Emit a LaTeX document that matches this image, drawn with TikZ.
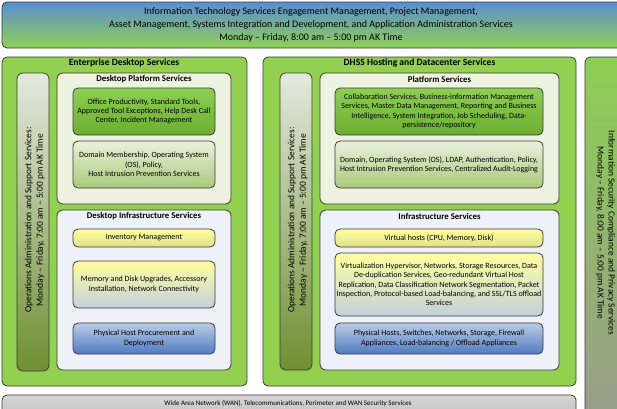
\documentclass[tikz,border=0pt]{standalone}
\usepackage{fontspec}
\setmainfont{Carlito}
\definecolor{edge}{HTML}{3A3A3A}
\definecolor{panelgreen}{HTML}{92D050}
\definecolor{bannerblue}{HTML}{5A8ED2}
\definecolor{bannergreen}{HTML}{90D055}
\definecolor{platfill}{HTML}{EEF3E1}
\definecolor{infrafill}{HTML}{EEF1F8}
\definecolor{gtop}{HTML}{8CCF52}
\definecolor{gbot}{HTML}{6CAE32}
\definecolor{ltop}{HTML}{EAF1DC}
\definecolor{lbot}{HTML}{A9C97A}
\definecolor{ytop}{HTML}{FFFF9E}
\definecolor{ybot}{HTML}{E0E08A}
\definecolor{mbot}{HTML}{C4D0DE}
\definecolor{btop}{HTML}{BACDE6}
\definecolor{bbot}{HTML}{4F7BBF}
\definecolor{vtop}{HTML}{E4E9DE}
\definecolor{vbot}{HTML}{6F8F32}
\definecolor{rbot}{HTML}{9A9C8C}
\definecolor{graytop}{HTML}{D6D6D6}
\definecolor{graybot}{HTML}{BABABA}
\begin{document}
\begin{tikzpicture}[x=1pt,y=-1pt,
  boxbase/.style={draw=edge,line width=0.8pt,rounded corners=5pt,inner sep=0pt,align=center},
  panel/.style={boxbase,fill=panelgreen},
  subpanel/.style={boxbase,rounded corners=6pt},
  item/.style={boxbase,rounded corners=5pt,font=\fontsize{8}{9.3}\selectfont},
  greenitem/.style={item,top color=gtop,bottom color=gbot},
  lightitem/.style={item,top color=ltop,bottom color=lbot},
  yellowitem/.style={item,top color=ytop,bottom color=ybot},
  mixitem/.style={item,top color=ytop,bottom color=mbot},
  blueitem/.style={item,top color=btop,bottom color=bbot},
  vbar/.style={boxbase,rounded corners=6pt,top color=vtop,bottom color=vbot},
  paneltitle/.style={font=\bfseries\fontsize{9.6}{11}\selectfont,inner sep=0pt},
  subtitle/.style={font=\bfseries\fontsize{8.8}{10}\selectfont,inner sep=0pt},
  vtext/.style={font=\fontsize{9.4}{11.5}\selectfont,align=center,inner sep=0pt}
]
\useasboundingbox (0,0) rectangle (617,408);
\clip (0,0) rectangle (617,408);
\fill[white] (0,0) rectangle (617,408);

% top banner
\node[boxbase,top color=bannerblue,bottom color=bannergreen,minimum width=640pt,minimum height=46pt] (banner) at (322,25) {};
\node[font=\fontsize{10}{13}\selectfont,align=center,inner sep=0pt] (bannertext) at (311,25)
  {Information Technology Services Engagement Management, Project Management,\\
   Asset Management, Systems Integration and Development, and Application Administration Services\\
   Monday -- Friday, 8:00 am -- 5:00 pm AK Time};

% left panel
\node[panel,minimum width=245pt,minimum height=329pt] (leftpanel) at (124.5,221.5) {};
\node[paneltitle] (lefttitle) at (124,63) {Enterprise Desktop Services};
\node[vbar,minimum width=32pt,minimum height=298pt] (leftbar) at (33,222) {};
\node[vtext,rotate=90] (leftbartext) at (34.5,220)
  {Operations Administration and Support Services:\\Monday -- Friday, 7:00 am -- 5:00 pm AK Time};

\node[subpanel,fill=platfill,minimum width=174pt,minimum height=131pt] (dplat) at (144,138.5) {};
\node[subtitle] (dplattitle) at (144,79) {Desktop Platform Services};
\node[greenitem,minimum width=142pt,minimum height=47pt] (office) at (144,111.5)
  {Office Productivity, Standard Tools,\\Approved Tool Exceptions, Help Desk Call\\Center, Incident Management};
\node[lightitem,minimum width=142pt,minimum height=47pt] (ddomain) at (144,164.5)
  {Domain Membership, Operating System\\(OS), Policy,\\Host Intrusion Prevention Services};

\node[subpanel,fill=infrafill,minimum width=174pt,minimum height=160pt] (dinfra) at (144,290) {};
\node[subtitle] (dinfratitle) at (144,216) {Desktop Infrastructure Services};
\node[yellowitem,minimum width=142pt,minimum height=18pt] (inventory) at (144,238) {Inventory Management};
\node[mixitem,minimum width=142pt,minimum height=47pt] (memory) at (144,284.5)
  {Memory and Disk Upgrades, Accessory\\Installation, Network Connectivity};
\node[blueitem,minimum width=142pt,minimum height=31pt] (phost) at (144,338.5)
  {Physical Host Procurement and\\Deployment};

% middle panel
\node[panel,minimum width=313pt,minimum height=329pt] (midpanel) at (419.5,221.5) {};
\node[paneltitle] (midtitle) at (419.5,63) {DHSS Hosting and Datacenter Services};
\node[vbar,minimum width=32pt,minimum height=297pt] (midbar) at (296,221.5) {};
\node[vtext,rotate=90] (midbartext) at (297.5,220)
  {Operations Administration and Support Services:\\Monday -- Friday, 7:00 am -- 5:00 pm AK Time};

\node[subpanel,fill=platfill,minimum width=239pt,minimum height=131pt] (plat) at (439.5,138.5) {};
\node[subtitle] (plattitle) at (439.5,79) {Platform Services};
\node[greenitem,minimum width=208pt,minimum height=47pt] (collab) at (439,111.5)
  {Collaboration Services, Business-information Management\\Services, Master Data Management, Reporting and Business\\Intelligence, System Integration, Job Scheduling, Data-\\persistence/repository};
\node[lightitem,minimum width=208pt,minimum height=47pt] (domain) at (439,164.5)
  {Domain, Operating System (OS), LDAP, Authentication, Policy,\\Host Intrusion Prevention Services, Centralized Audit-Logging};

\node[subpanel,fill=infrafill,minimum width=239pt,minimum height=160pt] (infra) at (439.5,290) {};
\node[subtitle] (infratitle) at (439.5,216) {Infrastructure Services};
\node[yellowitem,minimum width=208pt,minimum height=18pt] (vhosts) at (439,238) {Virtual hosts (CPU, Memory, Disk)};
\node[mixitem,minimum width=208pt,minimum height=63pt] (virt) at (439,284.5)
  {Virtualization Hypervisor, Networks, Storage Resources, Data\\De-duplication Services, Geo-redundant Virtual Host\\Replication, Data Classification Network Segmentation, Packet\\Inspection, Protocol-based Load-balancing, and SSL/TLS offload\\Services};
\node[blueitem,minimum width=208pt,minimum height=31pt] (phosts) at (439,338.5)
  {Physical Hosts, Switches, Networks, Storage, Firewall\\Appliances, Load-balancing / Offload Appliances};

% right panel
\node[boxbase,top color=gtop,bottom color=rbot,minimum width=60pt,minimum height=363pt] (rightpanel) at (615,238.5) {};
\node[vtext,rotate=-90,font=\fontsize{9.4}{11}\selectfont] (righttext) at (605.5,233)
  {Information Security Compliance and Privacy Services\\Monday -- Friday, 8:00 am -- 5:00 pm AK Time};

% bottom bar
\node[boxbase,top color=graytop,bottom color=graybot,minimum width=574pt,minimum height=30pt] (wan) at (289,410) {};
\node[font=\fontsize{7}{8}\selectfont,inner sep=0pt] (wantext) at (288,403)
  {Wide Area Network (WAN), Telecommunications, Perimeter and WAN Security Services};
\end{tikzpicture}
\end{document}
